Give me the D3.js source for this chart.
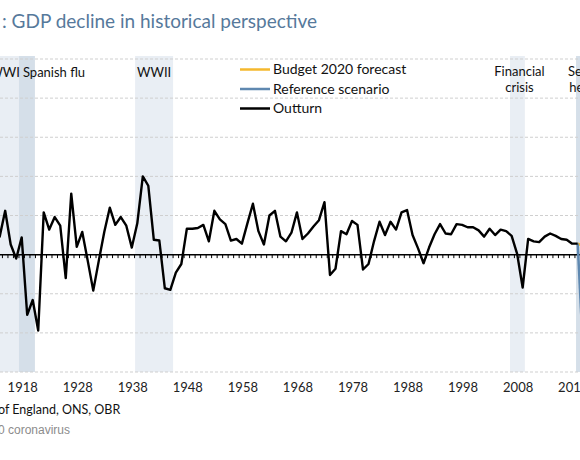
<!DOCTYPE html>
<html>
<head>
<meta charset="utf-8">
<script src="https://cdn.jsdelivr.net/npm/d3@7"></script>
<style>
  body { margin: 0; background: #fff; }
  svg { display: block; font-family: Lato, "Open Sans", sans-serif; }
</style>
</head>
<body>
<svg id="chart"></svg>
<script>
// Outturn: annual real GDP growth, %, 1913 to 2019
const outturnYears = d3.range(1913, 2020);
const outturn = [
  3.8, 2.3, 5.6, 1.3, -0.5, 2.2, -7.7, -5.8, -9.7, 5.4,
  3.2, 4.8, 3.7, -3.0, 7.8, 1.0, 2.9, -0.8, -4.6, -0.8,
  2.9, 6.0, 3.8, 4.8, 3.7, 0.9, 4.0, 10.0, 8.8, 1.9,
  1.8, -4.3, -4.5, -2.3, -1.2, 3.3, 3.3, 3.4, 3.8, 1.7,
  5.6, 4.5, 3.9, 1.8, 2.0, 1.4, 4.0, 6.5, 3.0, 1.3,
  5.0, 5.6, 2.3, 1.7, 2.8, 5.4, 2.0, 2.7, 3.6, 4.4,
  6.7, -2.6, -1.8, 3.0, 2.6, 4.3, 3.8, -1.9, -1.2, 1.7,
  4.2, 2.5, 4.2, 3.2, 5.4, 5.7, 2.5, 0.8, -1.1, 0.9,
  2.6, 3.9, 2.7, 2.6, 3.9, 3.8, 3.5, 3.5, 3.1, 2.3,
  3.3, 2.5, 3.2, 3.0, 2.4, 0.1, -4.2, 2.0, 1.7, 1.6,
  2.3, 2.7, 2.4, 2.0, 1.9, 1.4, 1.4
];

// Forecast series (from last outturn year)
const forecastYears = [2019, 2020];
const budgetForecast = [1.4, 1.1];
const referenceScenario = [1.4, -12.8];

// Axis ticks
const yTicks = [-15, -10, -5, 0, 5, 10, 15, 20, 25];
const xTickYears = [1918, 1928, 1938, 1948, 1958, 1968, 1978, 1988, 1998, 2008, 2018];

// Shaded episodes (start year, end year)
const episodeNames = ["WWI", "Spanish flu", "WWII", "Financial crisis", "Severe health"];
const episodeStart = [1912, 1917.5, 1938.6, 2006.7, 2018.7];
const episodeEnd = [1917.5, 1920.4, 1945.5, 2009.4, 2022];

const width = 580;
const height = 460;

const svg = d3.select("#chart")
  .attr("width", width)
  .attr("height", height);

const x = d3.scaleLinear().domain([1918, 2019]).range([21.7, 577.7]);
const y = d3.scaleLinear().domain([-15, 25]).range([372, 59]);

// Title (left part cropped in the original)
svg.append("text")
  .attr("x", 2)
  .attr("y", 28)
  .attr("font-size", "19px")
  .attr("fill", "#56799b")
  .text(": GDP decline in historical perspective");

// Shaded bands
const bandFill = ["#e9eef4", "#d5dfe9", "#e9eef4", "#e9eef4", "#d5dfe9"];
svg.append("g")
  .selectAll("rect")
  .data(episodeNames)
  .enter().append("rect")
  .attr("x", (d, i) => x(episodeStart[i]))
  .attr("width", (d, i) => x(episodeEnd[i]) - x(episodeStart[i]))
  .attr("y", 56)
  .attr("height", y(-15) - 56)
  .attr("fill", (d, i) => bandFill[i]);

// Gridlines
svg.append("g")
  .selectAll("line")
  .data(yTicks.filter(d => d !== 0))
  .enter().append("line")
  .attr("x1", 0)
  .attr("x2", width)
  .attr("y1", d => y(d))
  .attr("y2", d => y(d))
  .attr("stroke", "#cfcfcf")
  .attr("stroke-width", 1)
  .attr("stroke-dasharray", "3,2");

// Zero line with yearly ticks
svg.append("line")
  .attr("x1", 0)
  .attr("x2", width)
  .attr("y1", y(0))
  .attr("y2", y(0))
  .attr("stroke", "#000")
  .attr("stroke-width", 1.5);

svg.append("g")
  .selectAll("line")
  .data(d3.range(1912, 2021))
  .enter().append("line")
  .attr("x1", d => x(d + 0.5))
  .attr("x2", d => x(d + 0.5))
  .attr("y1", y(0))
  .attr("y2", y(0) + 3.5)
  .attr("stroke", "#000")
  .attr("stroke-width", 1);

// Episode labels
const labels = svg.append("g")
  .attr("font-size", "13px")
  .attr("fill", "#111");

labels.append("text")
  .attr("x", x(episodeEnd[0]) + 1)
  .attr("y", 77)
  .attr("text-anchor", "end")
  .text(episodeNames[0]);

labels.append("text")
  .attr("x", x(episodeStart[1]) + 4)
  .attr("y", 77)
  .text(episodeNames[1]);

labels.append("text")
  .attr("x", (x(episodeStart[2]) + x(episodeEnd[2])) / 2)
  .attr("y", 77)
  .attr("text-anchor", "middle")
  .text(episodeNames[2]);

[3, 4].forEach(i => {
  const cx = (x(episodeStart[i]) + x(episodeEnd[i])) / 2 + 2;
  const words = episodeNames[i].split(" ");
  labels.append("text")
    .attr("x", cx)
    .attr("y", 76)
    .attr("text-anchor", "middle")
    .text(words[0]);
  labels.append("text")
    .attr("x", cx)
    .attr("y", 91.5)
    .attr("text-anchor", "middle")
    .text(words[1]);
});

// Lines
const line = d3.line()
  .x(d => x(d[0]))
  .y(d => y(d[1]));

svg.append("path")
  .datum(forecastYears.map((d, i) => [d, budgetForecast[i]]))
  .attr("d", line)
  .attr("fill", "none")
  .attr("stroke", "#f5b82e")
  .attr("stroke-width", 2.5);

svg.append("path")
  .datum(forecastYears.map((d, i) => [d, referenceScenario[i]]))
  .attr("d", line)
  .attr("fill", "none")
  .attr("stroke", "#5f88b0")
  .attr("stroke-width", 2.5);

svg.append("path")
  .datum(outturnYears.map((d, i) => [d, outturn[i]]))
  .attr("d", line)
  .attr("fill", "none")
  .attr("stroke", "#000")
  .attr("stroke-width", 2.4)
  .attr("stroke-linejoin", "round");

// Legend
const legendItems = ["Budget 2020 forecast", "Reference scenario", "Outturn"];
const legendColors = ["#f5b82e", "#5f88b0", "#000"];
const legend = svg.append("g")
  .attr("transform", "translate(240,69.5)");

legend.selectAll("line")
  .data(legendItems)
  .enter().append("line")
  .attr("x1", 0)
  .attr("x2", 30)
  .attr("y1", (d, i) => i * 19.5)
  .attr("y2", (d, i) => i * 19.5)
  .attr("stroke", (d, i) => legendColors[i])
  .attr("stroke-width", 2.5);

legend.selectAll("text")
  .data(legendItems)
  .enter().append("text")
  .attr("x", 33)
  .attr("y", (d, i) => i * 19.5)
  .attr("dy", "0.35em")
  .attr("font-size", "14px")
  .attr("fill", "#111")
  .text(d => d);

// X tick labels
svg.append("g")
  .selectAll("text")
  .data(xTickYears)
  .enter().append("text")
  .attr("x", d => x(d) + 1)
  .attr("y", 392)
  .attr("text-anchor", "middle")
  .attr("font-size", "13px")
  .attr("fill", "#222")
  .text(d => d);

// Source and notes (left part cropped in the original)
svg.append("text")
  .attr("x", -2)
  .attr("y", 414)
  .attr("font-size", "12.5px")
  .attr("fill", "#111")
  .text("of England, ONS, OBR");

svg.append("text")
  .attr("x", -2)
  .attr("y", 434)
  .attr("font-family", "'Liberation Sans', Arial, sans-serif")
  .attr("font-size", "12px")
  .attr("fill", "#8c8c8c")
  .text("0 coronavirus");
</script>
</body>
</html>
